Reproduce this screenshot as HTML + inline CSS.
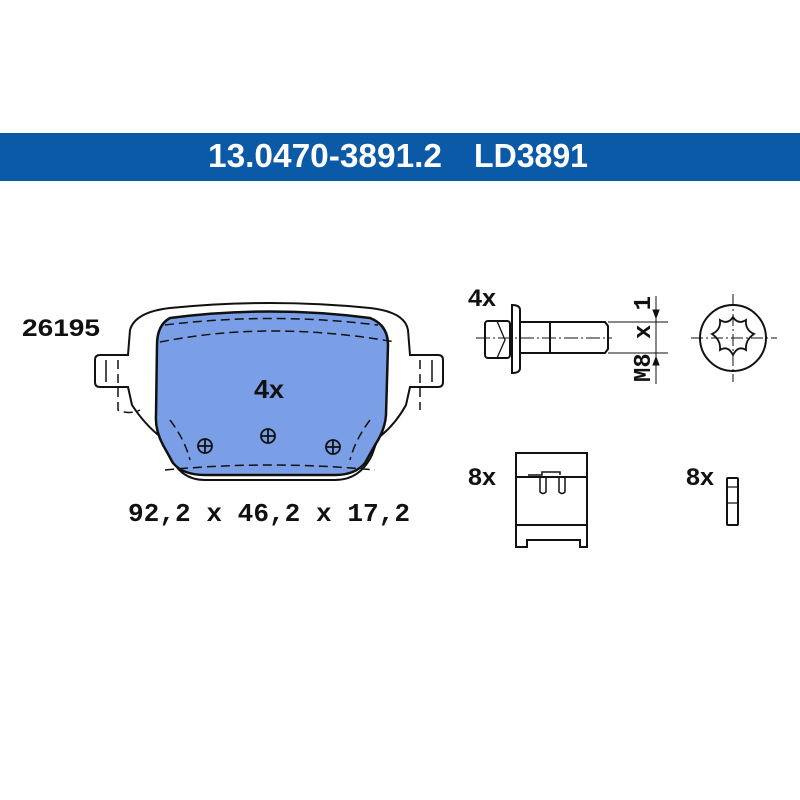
<!DOCTYPE html>
<html><head><meta charset="utf-8"><style>
html,body{margin:0;padding:0;background:#fff;width:800px;height:800px;overflow:hidden}
</style></head><body>
<svg width="800" height="800" viewBox="0 0 800 800" xmlns="http://www.w3.org/2000/svg" font-family="Liberation Sans, sans-serif">
<rect x="0" y="133" width="800" height="48" fill="#0a5aa8"/>
<text x="208" y="167" fill="#fff" font-size="33" font-weight="bold" textLength="234" lengthAdjust="spacingAndGlyphs">13.0470-3891.2</text>
<text x="474" y="167" fill="#fff" font-size="33" font-weight="bold" textLength="114" lengthAdjust="spacingAndGlyphs">LD3891</text>

<g font-weight="bold" font-size="24" fill="#111">
<text x="22" y="336" textLength="78" lengthAdjust="spacingAndGlyphs">26195</text>
<text x="468" y="306" textLength="28" lengthAdjust="spacingAndGlyphs">4x</text>
<text x="468" y="485" textLength="28" lengthAdjust="spacingAndGlyphs">8x</text>
<text x="686" y="485" textLength="28" lengthAdjust="spacingAndGlyphs">8x</text>
</g>
<text x="128" y="521" font-family="Liberation Mono, monospace" font-weight="bold" font-size="26" fill="#111" xml:space="preserve" textLength="282" lengthAdjust="spacingAndGlyphs">92,2 x 46,2 x 17,2</text>

<!-- pad backing plate -->
<g fill="none" stroke="#111" stroke-width="2">
<path d="M130,330 Q135,312 170,308 Q270,298 370,308 Q405,312 408,330 L410,355 L438,355 Q443,355 443,360 L443,382 Q443,387 438,387 L410,387 L406,405 Q395,425 378,438 L372,455 Q360,480 335,480 L205,480 Q180,480 170,455 L162,438 Q145,425 132,405 L128,387 L100,387 Q95,387 95,382 L95,360 Q95,355 100,355 L128,355 Z"/>
<path d="M106,360 L106,382 M432,360 L432,382" stroke-width="1.5"/>
</g>
<!-- friction -->
<path d="M170,318 Q270,305 370,318 Q388,325 388,345 L386,415 Q385,430 375,445 L365,463 Q355,475 335,475 L205,475 Q183,475 173,463 L163,445 Q155,430 156,415 L157,345 Q157,325 170,318 Z" fill="#7a9fe6" stroke="#111" stroke-width="2.5"/>
<g fill="none" stroke="#111" stroke-width="1.5" stroke-dasharray="9,5">
<path d="M165,325 Q270,312 378,325"/>
<path d="M160,342 Q270,320 395,342"/>
<path d="M118,360 L118,410 Q130,415 140,410 M420,360 L420,410"/>
<path d="M165,470 Q270,460 375,470"/>
<path d="M170,420 Q185,440 190,460 M370,420 Q355,440 350,460"/>
</g>
<text x="254" y="398" font-weight="bold" font-size="26" fill="#111" textLength="30" lengthAdjust="spacingAndGlyphs">4x</text>
<g fill="none" stroke="#111" stroke-width="1.8">
<circle cx="205" cy="446" r="7"/><path d="M198,446 H212 M205,439 V453"/>
<circle cx="268" cy="436" r="7"/><path d="M261,436 H275 M268,429 V443"/>
<circle cx="333" cy="447" r="7"/><path d="M326,447 H340 M333,440 V454"/>
</g>

<!-- bolt -->
<g fill="none" stroke="#111" stroke-width="2">
<rect x="485" y="321" width="25" height="37" rx="3"/>
<path d="M512,305 Q520,305 520,310 L520,368 Q520,373 512,373 Z"/>
<path d="M520,322 L605,322 L608,326 L608,349 L605,353 L520,353"/>
<path d="M550,322 V353"/>
<path d="M497,321 L505,340 L497,358" stroke-width="1.3"/>
</g>
<g stroke="#111" stroke-width="1" fill="none">
<path d="M476,338 H612" stroke-dasharray="14,3,2,3"/>
<path d="M608,322 H668 M608,353 H668 M656,296 V384"/>
<path d="M656,318 l-3,-8 h6 Z M656,357 l-3,8 h6 Z" fill="#111"/>
</g>
<text transform="translate(650,382) rotate(-90)" font-family="Liberation Mono, monospace" font-weight="bold" font-size="24" fill="#111" xml:space="preserve" textLength="86" lengthAdjust="spacingAndGlyphs">M8 x 1</text>

<!-- torx head view -->
<g fill="none" stroke="#111" stroke-width="2">
<circle cx="733" cy="338" r="33"/>
<path d="M733,317 Q738,325 746,320 Q745,330 754,334 Q745,340 746,350 Q738,345 733,355 Q728,345 720,350 Q721,340 712,334 Q721,330 720,320 Q728,325 733,317 Z" stroke-width="1.8"/>
</g>
<g stroke="#111" stroke-width="1" stroke-dasharray="12,3,2,3"><path d="M691,338 H777 M733,294 V382"/></g>

<!-- clip -->
<g fill="none" stroke="#111" stroke-width="2">
<path d="M516,453 H587 V547 H580 V540 H527 V547 H516 Z"/>
<path d="M516,477 H587 M516,525 H587"/>
<path d="M528,475 H542 V472 H560 V475 M540,477 V492 Q543,495 546,492 V477 M559,477 V492 Q562,495 565,492 V477" stroke-width="1.5"/>
</g>
<!-- small clip -->
<g fill="none" stroke="#111" stroke-width="2">
<rect x="727" y="478" width="11" height="47" rx="1"/>
<path d="M727,487 H738 M727,503 H738" stroke-width="1.2"/>
</g>
</svg>
</body></html>
